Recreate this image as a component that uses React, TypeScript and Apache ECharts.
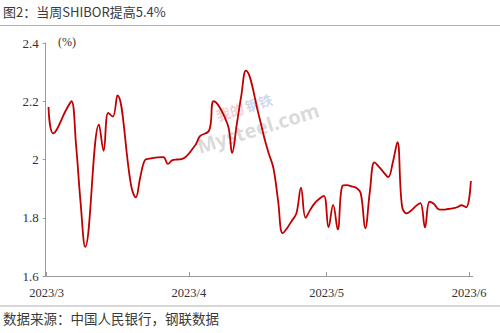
import React, { useEffect, useRef } from 'react';
import * as echarts from 'echarts';

const titleText = '图2：当周SHIBOR提高5.4%';
const sourceText = '数据来源：中国人民银行，钢联数据';
const unitText = '(%)';

const dates = [
  '2023-03-02', '2023-03-03', '2023-03-06', '2023-03-07', '2023-03-08', '2023-03-09', '2023-03-10',
  '2023-03-13', '2023-03-14', '2023-03-15', '2023-03-16', '2023-03-17',
  '2023-03-20', '2023-03-21', '2023-03-22', '2023-03-23', '2023-03-24',
  '2023-03-27', '2023-03-28', '2023-03-29', '2023-03-30', '2023-03-31',
  '2023-04-03', '2023-04-04', '2023-04-06', '2023-04-07',
  '2023-04-10', '2023-04-11', '2023-04-12', '2023-04-13', '2023-04-14',
  '2023-04-17', '2023-04-18', '2023-04-19', '2023-04-20', '2023-04-21', '2023-04-22', '2023-04-23',
  '2023-04-24', '2023-04-25', '2023-04-26', '2023-04-27', '2023-04-28', '2023-04-29', '2023-04-30',
  '2023-05-01', '2023-05-02', '2023-05-03', '2023-05-04', '2023-05-05', '2023-05-06', '2023-05-07',
  '2023-05-08', '2023-05-09', '2023-05-10', '2023-05-11', '2023-05-12', '2023-05-13', '2023-05-14',
  '2023-05-15', '2023-05-16', '2023-05-17', '2023-05-18', '2023-05-19', '2023-05-20', '2023-05-21',
  '2023-05-22', '2023-05-23', '2023-05-24', '2023-05-25', '2023-05-26', '2023-05-27', '2023-05-28',
  '2023-05-29', '2023-05-30', '2023-05-31', '2023-06-01', '2023-06-02',
];

const shibor = [
  2.18, 2.09, 2.175, 2.2, 2.05, 1.85, 1.7,
  2.12, 2.03, 2.16, 2.147, 2.22,
  1.91, 1.87, 1.94, 1.998, 2.003,
  2.008, 1.985, 1.998, 2.0, 2.001,
  2.05, 2.08, 2.1, 2.2,
  2.121, 2.023, 2.12, 2.22, 2.305,
  2.14, 2.075, 2.02, 1.97, 1.86, 1.747, 1.765,
  1.79, 1.815, 1.903, 1.8, 1.827, 1.85, 1.865,
  1.875, 1.767, 1.844, 1.76, 1.909, 1.912, 1.908,
  1.903, 1.885, 1.764, 1.89, 1.99, 1.975, 1.956,
  1.94, 1.99, 2.06, 1.84, 1.815, 1.825, 1.84,
  1.85, 1.767, 1.855, 1.847, 1.829, 1.828, 1.83,
  1.832, 1.836, 1.843, 1.836, 1.926,
];

const tickDates = ['2023-03-01', '2023-04-01', '2023-05-01', '2023-06-01'];
const tickLabels = ['2023/3', '2023/4', '2023/5', '2023/6'];

const BASE = Date.UTC(2023, 2, 1);
const dayIndex = (s: string) => {
  const [y, m, d] = s.split('-').map(Number);
  return (Date.UTC(y, m - 1, d) - BASE) / 86400000;
};
const TICK_SHIFT = 0.6;
const tickValues = tickDates.map((d) => dayIndex(d) + TICK_SHIFT);

export default function App() {
  const ref = useRef<HTMLDivElement>(null);
  useEffect(() => {
    if (!ref.current) return;
    const chart = echarts.init(ref.current, null, { renderer: 'svg' });
    const axisGrey = '#9a9a9a';
    const serif = "'Liberation Serif', 'Times New Roman', serif";
    const cjk = "'Noto Sans CJK SC', sans-serif";
    chart.setOption({
      animation: false,
      backgroundColor: '#ffffff',
      grid: { left: 45.7, right: 27.3, top: 43, bottom: 57, containLabel: false },
      xAxis: {
        type: 'value',
        min: 0.39,
        max: 93.4,
        splitLine: { show: false },
        axisLine: { show: true, lineStyle: { color: axisGrey, width: 1 } },
        axisTick: { show: true, inside: true, length: 4, customValues: tickValues, lineStyle: { color: axisGrey } },
        axisLabel: {
          customValues: tickValues,
          formatter: (v: number) => {
            const i = tickValues.findIndex((t) => Math.abs(t - v) < 0.01);
            return i >= 0 ? tickLabels[i] : '';
          },
          margin: 10,
          color: '#333',
          fontFamily: serif,
          fontSize: 12.5,
        },
      },
      yAxis: {
        type: 'value',
        min: 1.6,
        max: 2.4,
        interval: 0.2,
        splitLine: { show: false },
        axisLine: { show: true, lineStyle: { color: axisGrey, width: 1 } },
        axisTick: { show: true, inside: false, length: 3, lineStyle: { color: axisGrey } },
        axisLabel: {
          margin: 7,
          color: '#333',
          fontFamily: serif,
          fontSize: 13,
          formatter: (v: number) => String(Math.round(v * 10) / 10),
        },
      },
      series: [
        {
          type: 'line',
          data: dates.map((d, i) => [dayIndex(d), shibor[i]]),
          smooth: 0.4,
          showSymbol: false,
          symbol: 'none',
          lineStyle: { color: '#C00000', width: 1.8 },
        },
      ],
      graphic: [
        {
          type: 'text',
          left: 3,
          top: 5,
          style: { text: titleText, fill: '#3a3a3a', font: `13px ${cjk}` },
        },
        {
          type: 'line',
          shape: { x1: 0, y1: 25.5, x2: 500, y2: 25.5 },
          style: { stroke: '#b0b0b0', lineWidth: 1 },
        },
        {
          type: 'text',
          x: 58,
          y: 42,
          style: { text: unitText, fill: '#333', font: `12px ${serif}`, verticalAlign: 'middle' },
        },
        {
          type: 'group',
          x: 258,
          y: 128,
          rotation: 0.3,
          children: [
            {
              type: 'text',
              x: 0,
              y: 0,
              style: {
                text: 'Mysteel.com',
                fill: 'rgba(150,150,150,0.35)',
                font: `bold 20px ${"'Noto Sans', sans-serif"}`,
                align: 'center',
                verticalAlign: 'middle',
              },
            },
            {
              type: 'text',
              x: -22,
              y: -24,
              style: { text: '我的', fill: 'rgba(220,90,90,0.3)', font: `bold 14px ${cjk}`, align: 'center', verticalAlign: 'middle' },
            },
            {
              type: 'text',
              x: 8,
              y: -24,
              style: { text: '钢铁', fill: 'rgba(90,120,200,0.3)', font: `bold 14px ${cjk}`, align: 'center', verticalAlign: 'middle' },
            },
          ],
        },
        {
          type: 'line',
          shape: { x1: 0, y1: 306, x2: 500, y2: 306 },
          style: { stroke: '#b0b0b0', lineWidth: 1 },
        },
        {
          type: 'text',
          left: 3,
          top: 311,
          style: { text: sourceText, fill: '#3a3a3a', font: `13.5px ${cjk}` },
        },
      ],
    });
    return () => chart.dispose();
  }, []);
  return (
    <div
      ref={ref}
      style={{ position: 'fixed', left: 0, top: 0, width: 500, height: 333, background: '#fff' }}
    />
  );
}
